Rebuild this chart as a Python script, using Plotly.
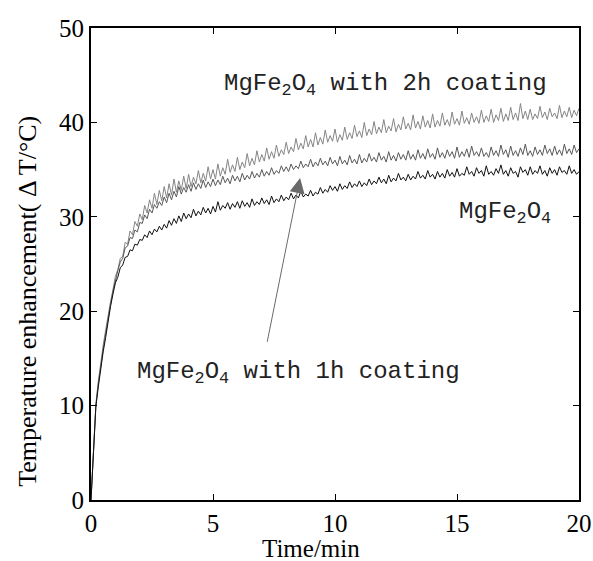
import plotly.graph_objects as go

TIME_MIN = [round(i * 0.1, 1) for i in range(201)]

MGFE2O4 = [
    0, 5.0, 9.9, 12.0, 14.1, 15.7, 17.2, 19.1, 20.5, 21.8,
    23.0, 23.6, 24.6, 24.9, 25.7, 25.8, 26.5, 26.4, 27.1, 27.0,
    27.6, 27.5, 28.1, 27.8, 28.5, 28.1, 28.7, 28.4, 29.0, 28.6,
    29.2, 28.8, 29.6, 29.1, 29.8, 29.3, 30.1, 29.5, 30.4, 29.8,
    30.3, 29.9, 30.8, 30.1, 30.6, 30.2, 31.0, 30.4, 30.9, 30.3,
    31.1, 30.5, 31.6, 30.7, 31.2, 30.9, 31.5, 30.8, 31.4, 31.0,
    31.6, 30.9, 31.7, 31.1, 31.5, 31.0, 31.9, 31.2, 31.6, 31.3,
    32.0, 31.4, 31.8, 31.3, 32.2, 31.5, 31.9, 31.6, 32.3, 31.7,
    32.1, 31.8, 32.5, 31.9, 32.3, 32.0, 32.7, 32.1, 32.4, 32.2,
    32.8, 32.2, 32.6, 32.4, 33.1, 32.5, 32.9, 32.6, 33.3, 32.8,
    33.2, 32.7, 33.5, 32.9, 33.3, 33.0, 33.7, 33.1, 33.5, 33.2,
    33.8, 33.2, 33.6, 33.3, 34.0, 33.4, 33.8, 33.5, 34.2, 33.6,
    34.0, 33.5, 34.4, 33.7, 34.1, 33.8, 34.6, 33.9, 34.2, 33.8,
    34.5, 33.9, 34.3, 34.0, 34.8, 34.1, 34.4, 34.0, 34.9, 34.2,
    34.5, 34.0, 34.8, 34.2, 34.6, 34.1, 35.0, 34.3, 34.7, 34.2,
    35.1, 34.3, 34.6, 34.4, 35.3, 34.5, 34.8, 34.3, 35.2, 34.6,
    34.9, 34.3, 35.4, 34.5, 34.8, 34.4, 35.1, 34.6, 35.5, 34.5,
    34.9, 34.3, 35.2, 34.6, 34.8, 34.2, 35.3, 34.7, 35.0, 34.4,
    35.3, 34.5, 34.9, 34.6, 35.4, 34.5, 34.9, 34.3, 35.2, 34.6,
    35.0, 34.4, 35.3, 34.7, 34.9, 34.5, 35.4, 34.6, 35.0, 34.5,
    34.8,
]

COATING_1H = [
    0, 5.2, 10.0, 12.3, 14.4, 16.0, 17.6, 19.3, 20.7, 22.1,
    23.4, 24.3, 25.2, 25.6, 26.7, 26.9, 27.8, 27.7, 28.6, 28.4,
    29.4, 29.3, 30.2, 29.8, 30.8, 30.4, 31.3, 30.9, 31.6, 31.2,
    32.1, 31.5, 32.5, 31.8, 32.7, 32.1, 33.2, 32.4, 33.1, 32.6,
    33.4, 32.7, 33.6, 32.9, 33.5, 33.0, 33.9, 33.1, 33.7, 33.2,
    34.0, 33.3, 33.9, 33.4, 34.3, 33.6, 34.1, 33.5, 34.4, 33.8,
    34.3, 33.7, 34.6, 33.9, 34.4, 34.0, 34.8, 34.1, 34.6, 34.2,
    35.0, 34.3, 34.8, 34.4, 35.2, 34.5, 34.9, 34.6, 35.4, 34.8,
    35.3, 34.8, 35.6, 35.0, 35.4, 35.1, 35.9, 35.2, 35.6, 35.3,
    36.1, 35.3, 35.8, 35.4, 36.2, 35.5, 35.9, 35.4, 36.3, 35.6,
    36.0, 35.4, 36.4, 35.6, 36.0, 35.5, 36.5, 35.7, 36.1, 35.6,
    36.6, 35.7, 36.2, 35.8, 36.7, 35.9, 36.3, 35.8, 36.8, 36.0,
    36.4, 35.8, 36.9, 36.0, 36.5, 35.9, 36.8, 36.1, 36.6, 36.0,
    37.0, 36.1, 36.6, 36.0, 37.1, 36.2, 36.7, 36.1, 37.2, 36.3,
    36.7, 36.1, 37.3, 36.3, 36.8, 36.2, 37.1, 36.4, 36.9, 36.2,
    37.4, 36.3, 36.9, 36.4, 37.2, 36.3, 37.5, 36.5, 36.9, 36.4,
    37.3, 36.4, 36.8, 36.3, 37.4, 36.5, 37.0, 36.4, 37.6, 36.6,
    37.1, 36.3, 37.5, 36.5, 37.0, 36.4, 37.3, 36.6, 37.7, 36.5,
    37.0, 36.4, 37.4, 36.6, 37.1, 36.5, 37.6, 36.7, 37.2, 36.5,
    37.5, 36.6, 37.1, 36.5, 37.7, 36.7, 37.2, 36.6, 37.6, 36.8,
    37.2,
]

COATING_2H = [
    0, 5.4, 10.2, 12.6, 14.7, 16.4, 18.0, 19.6, 21.0, 22.3,
    23.7, 24.4, 25.6, 25.8, 27.3, 27.1, 28.5, 28.1, 29.5, 29.0,
    30.3, 29.7, 31.2, 30.4, 31.8, 30.9, 32.5, 31.3, 32.8, 31.7,
    33.2, 32.0, 33.5, 32.3, 34.0, 32.6, 33.8, 32.8, 34.3, 33.0,
    34.5, 33.2, 34.2, 33.5, 34.9, 33.6, 34.6, 33.8, 35.3, 34.0,
    35.0, 34.0, 35.6, 34.3, 35.2, 34.5, 36.1, 34.7, 35.5, 34.8,
    36.3, 35.0, 35.8, 35.2, 36.7, 35.4, 36.2, 35.5, 37.0, 35.8,
    36.6, 35.9, 37.3, 36.1, 36.9, 36.2, 37.6, 36.4, 37.1, 36.6,
    37.9, 36.7, 37.4, 36.9, 38.3, 37.1, 37.8, 37.2, 38.6, 37.4,
    38.2, 37.4, 38.9, 37.6, 38.4, 37.7, 39.2, 37.9, 38.6, 38.0,
    39.3, 37.9, 38.7, 38.1, 39.5, 38.2, 38.9, 38.3, 39.7, 38.5,
    39.1, 38.4, 40.0, 38.6, 39.3, 38.7, 40.1, 38.8, 39.5, 38.9,
    40.3, 38.9, 39.6, 39.1, 40.4, 39.0, 39.8, 39.2, 40.6, 39.3,
    39.9, 39.2, 40.8, 39.4, 40.1, 39.3, 40.7, 39.5, 40.2, 39.4,
    40.9, 39.5, 40.2, 39.6, 41.0, 39.7, 40.3, 39.6, 41.1, 39.8,
    40.4, 39.7, 41.2, 39.9, 40.5, 39.8, 41.0, 40.0, 40.6, 39.9,
    41.3, 40.0, 40.7, 40.1, 41.4, 40.0, 40.8, 40.2, 41.5, 40.1,
    40.9, 40.2, 41.6, 40.3, 41.0, 40.2, 42.0, 40.4, 41.2, 40.3,
    41.4, 40.3, 40.9, 40.4, 41.7, 40.5, 41.1, 40.3, 41.5, 40.6,
    41.0, 40.4, 41.8, 40.5, 41.2, 40.6, 41.6, 40.5, 41.3, 40.7,
    41.5,
]

X_TICKS = [0, 5, 10, 15, 20]
Y_TICKS = [0, 10, 20, 30, 40, 50]

SERIF = "Liberation Serif"
MONO = "Liberation Mono"

fig = go.Figure()
fig.add_trace(go.Scatter(x=TIME_MIN, y=COATING_2H, mode="lines",
                         line=dict(color="#858585", width=1), showlegend=False))
fig.add_trace(go.Scatter(x=TIME_MIN, y=COATING_1H, mode="lines",
                         line=dict(color="#585858", width=1), showlegend=False))
fig.add_trace(go.Scatter(x=TIME_MIN, y=MGFE2O4, mode="lines",
                         line=dict(color="#111111", width=1), showlegend=False))

fig.add_annotation(x=12.05, y=44.0, xref="x", yref="y",
                   text="MgFe<sub>2</sub>O<sub>4</sub> with 2h coating",
                   showarrow=False, font=dict(family=MONO, size=24, color="#222"))
fig.add_annotation(x=16.97, y=30.4, xref="x", yref="y",
                   text="MgFe<sub>2</sub>O<sub>4</sub>",
                   showarrow=False, font=dict(family=MONO, size=24, color="#222"))
fig.add_annotation(x=8.52, y=13.5, xref="x", yref="y",
                   text="MgFe<sub>2</sub>O<sub>4</sub> with 1h coating",
                   showarrow=False, font=dict(family=MONO, size=24, color="#222"))
fig.add_annotation(x=8.57, y=34.1, xref="x", yref="y",
                   ax=7.21, ay=16.6, axref="x", ayref="y",
                   text="", showarrow=True, arrowhead=2, arrowsize=3,
                   arrowwidth=1, arrowcolor="#6a6a6a")

# axis titles
fig.add_annotation(x=0.451, y=-0.102, xref="paper", yref="paper",
                   xanchor="center", yanchor="middle",
                   text="Time/min", showarrow=False,
                   font=dict(family=SERIF, size=25, color="black"))
fig.add_annotation(x=-0.129, y=0.42, xref="paper", yref="paper",
                   xanchor="center", yanchor="middle",
                   text="Temperature enhancement( Δ T/°C)", showarrow=False,
                   textangle=-90, font=dict(family=SERIF, size=26, color="black"))

axis_common = dict(showline=True, linecolor="black", linewidth=2, mirror="ticks",
                   ticks="inside", ticklen=6, tickwidth=1, tickcolor="black",
                   showgrid=False, zeroline=False, automargin=False,
                   tickfont=dict(family=SERIF, size=25, color="black"))

fig.update_xaxes(range=[0, 20], tickvals=X_TICKS, ticktext=[str(v) for v in X_TICKS],
                 **axis_common)
fig.update_yaxes(range=[0, 50], tickvals=Y_TICKS, ticktext=[str(v) for v in Y_TICKS],
                 **axis_common)

fig.update_layout(width=593, height=561, margin=dict(l=91, r=14, t=28, b=61),
                  plot_bgcolor="white", paper_bgcolor="white", template="none",
                  font=dict(family=SERIF, color="black"))

fig.write_html("out.html", config={"displayModeBar": False},
               post_script="document.body.style.margin='0';document.body.style.overflow='hidden';")
